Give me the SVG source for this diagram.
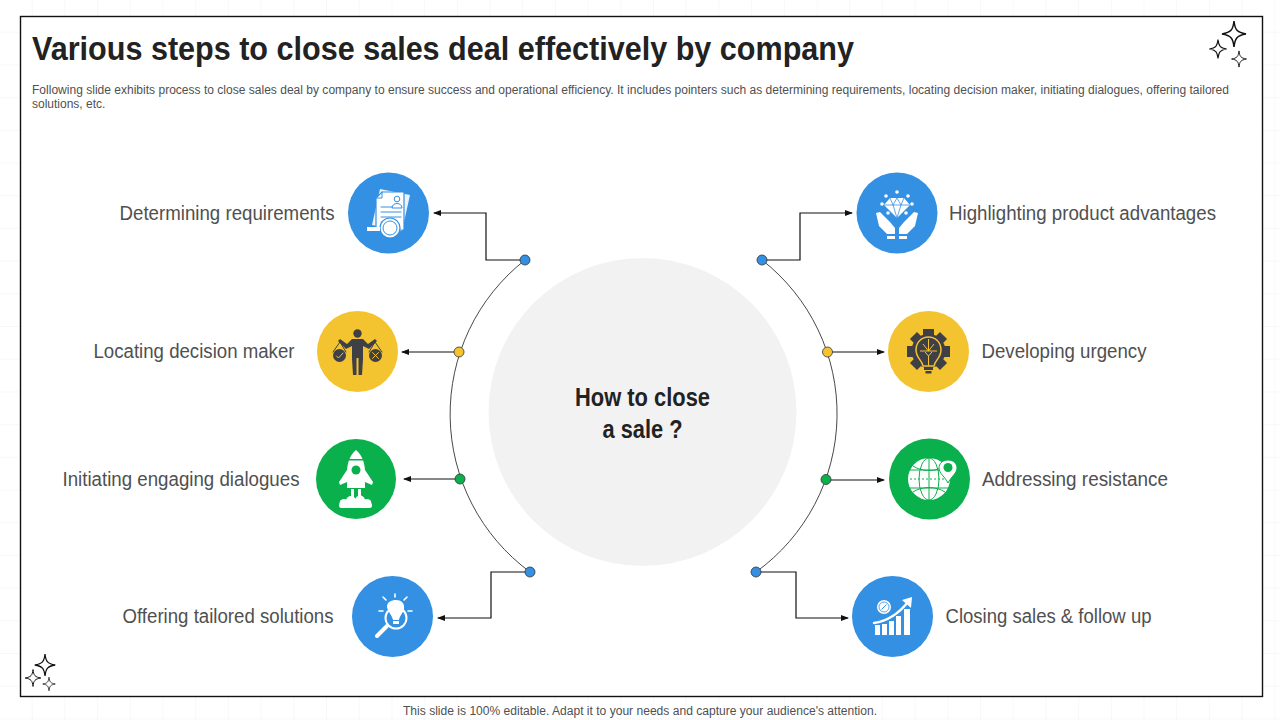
<svg xmlns="http://www.w3.org/2000/svg" width="1280" height="720" viewBox="0 0 1280 720">
<style>
.lbl{font-family:"Liberation Sans",Arial,sans-serif;font-size:19.5px;fill:#505050}
.small{font-family:"Liberation Sans",Arial,sans-serif;font-size:12px;fill:#505050}
.ctr{font-family:"Liberation Sans",Arial,sans-serif;font-size:25px;font-weight:700;fill:#222;text-anchor:middle}
.conn{fill:none;stroke:#111;stroke-width:1.2}
.arc{fill:none;stroke:#333;stroke-width:.9}
.blue{fill:#3390e3}.yellow{fill:#f4c430}.green{fill:#0ab04c}
.dot{stroke:#333;stroke-width:.8}
.w{fill:#fff}.wl{fill:none;stroke:#fff;stroke-width:1.6;stroke-linecap:round;stroke-linejoin:round}
.d{fill:#3f3f46}.dl{fill:none;stroke:#3f3f46;stroke-width:2;stroke-linecap:round;stroke-linejoin:round}
.star{fill:#fff;stroke:#111;stroke-width:1.500;stroke-linejoin:miter}
</style>
<defs>
<pattern id="grid" width="32.7" height="32.7" patternUnits="userSpaceOnUse"><path d="M32.7 0V32.7M0 32.7H32.7" fill="none" stroke="#f1f1f1" stroke-width="1"/></pattern>
<marker id="ah" markerWidth="8" markerHeight="6" refX="7" refY="3" orient="auto" markerUnits="userSpaceOnUse"><path d="M0 0L8 3L0 6z" fill="#111"/></marker>
<path id="s" d="M0-13C1-4 3-1.500 12 0C3 1.500 1 4 0 13C-1 4-3 1.500-12 0C-3-1.500-1-4 0-13Z"/>
</defs>
<rect width="1280" height="720" fill="#fff"/>
<rect width="1280" height="720" fill="url(#grid)"/>
<rect x="20.500" y="16.500" width="1242" height="680" fill="#fff" stroke="#111" stroke-width="1.400"/>
<text x="32" y="60" font-family="'Liberation Sans',Arial,sans-serif" font-size="34" font-weight="700" fill="#222" textLength="822" lengthAdjust="spacingAndGlyphs">Various steps to close sales deal effectively by company</text>
<text class="small" x="32" y="94" textLength="1197" lengthAdjust="spacingAndGlyphs">Following slide exhibits process to close sales deal by company to  ensure success and operational efficiency. It includes pointers such as determining requirements, locating decision maker, initiating dialogues, offering tailored</text>
<text class="small" x="32" y="108">solutions, etc.</text>
<text class="small" x="403" y="715" textLength="474" lengthAdjust="spacingAndGlyphs">This slide is 100% editable. Adapt it to your needs and capture your audience's attention.</text>
<g id="stars-top"><use href="#s" class="star" transform="translate(1234 34)"/><use href="#s" class="star" transform="translate(1218 49) scale(.72)"/><use href="#s" class="star" transform="translate(1239 59) scale(.62)"/></g>
<g id="stars-bottom"><use href="#s" class="star" transform="translate(45 665) scale(.85)"/><use href="#s" class="star" transform="translate(33 678) scale(.65)"/><use href="#s" class="star" transform="translate(49 684) scale(.52)"/></g>
<g id="hub"><circle cx="642.500" cy="412" r="154" fill="#f2f2f2"/><text class="ctr" x="642.500" y="406" textLength="135" lengthAdjust="spacingAndGlyphs">How to close</text><text class="ctr" x="642.500" y="438" textLength="80" lengthAdjust="spacingAndGlyphs">a sale ?</text></g>
<g id="connectors">
<path class="arc" d="M525 260A196 196 0 0 0 530 572"/>
<path class="arc" d="M762 260A195 195 0 0 1 756 572"/>
<path class="conn" marker-end="url(#ah)" d="M525 260H486V213H434"/>
<path class="conn" marker-end="url(#ah)" d="M459 352H402"/>
<path class="conn" marker-end="url(#ah)" d="M460 479H404"/>
<path class="conn" marker-end="url(#ah)" d="M530 572H491V618H438"/>
<path class="conn" marker-end="url(#ah)" d="M762 260H800V213H852"/>
<path class="conn" marker-end="url(#ah)" d="M827 352H884"/>
<path class="conn" marker-end="url(#ah)" d="M826 480H884"/>
<path class="conn" marker-end="url(#ah)" d="M756 572H796V618H848"/>
<circle class="dot blue" cx="525" cy="260" r="5"/><circle class="dot yellow" cx="459" cy="352" r="5"/><circle class="dot green" cx="460" cy="479" r="5"/><circle class="dot blue" cx="530" cy="572" r="5"/>
<circle class="dot blue" cx="762" cy="260" r="5"/><circle class="dot yellow" cx="827.500" cy="352" r="5"/><circle class="dot green" cx="826" cy="479.500" r="5"/><circle class="dot blue" cx="756" cy="572" r="5"/>
</g>
<g id="node-requirements"><circle class="blue" cx="388.500" cy="213" r="40.500"/>
<path class="w" d="M380 189L410 195L402 231L372 225Z" opacity=".9"/>
<path class="w" stroke="#3390e3" stroke-width="1.200" d="M382 192H404V230H376V198Z"/>
<path class="wl" style="stroke:#3390e3;stroke-width:1" d="M381 207H392M381 212H401M381 217H401M381 222H395M382 192V198H376"/>
<circle cx="397" cy="199" r="2.800" fill="none" stroke="#3390e3"/><path d="M392 208c0-6 10-6 10 0z" fill="none" stroke="#3390e3"/>
<circle cx="390" cy="228" r="10" class="w" stroke="#3390e3" stroke-width="1.200"/><circle cx="390" cy="228" r="7" fill="none" stroke="#3390e3"/>
<rect x="367" y="227" width="13" height="4" class="w"/>
<text class="lbl" x="119.500" y="220" textLength="215" lengthAdjust="spacingAndGlyphs">Determining requirements</text></g>
<g id="node-decision"><circle class="yellow" cx="357.500" cy="351.500" r="40.500"/>
<circle class="d" cx="357.500" cy="333.500" r="4.200"/>
<path class="d" d="M340 339L347 344L352 339H363L368 344L375 339L377 341L369 349L363 346V359L362 375H358.500V358H356.500V375H353L352 359V346L346 349L338 341Z"/>
<path class="dl" style="stroke-width:1" d="M340 342L333 352M340 342L346 352M375 342L369 352M375 342L382 352"/>
<circle class="d" cx="339.500" cy="355.500" r="6.500"/><circle class="d" cx="375.500" cy="355.500" r="6.500"/>
<path class="wl" style="stroke-width:1;stroke:#f4c430" d="M336.500 356L338.500 358L343 353M372.500 352.500L378.500 358.500M378.500 352.500L372.500 358.500"/>
<text class="lbl" x="93.500" y="358" textLength="201" lengthAdjust="spacingAndGlyphs">Locating decision maker</text></g>
<g id="node-dialogues"><circle class="green" cx="356" cy="479" r="40"/>
<path class="w" d="M356 450C362 455 365 463 365 472V488H347V472C347 463 350 455 356 450Z"/>
<path class="w" d="M347 470L339 482L340 485L347 482ZM365 470L373 482L372 485L365 482Z"/>
<circle class="green" cx="356" cy="470" r="4.500"/>
<path class="green" d="M347 459H365V460.500H347Z"/>
<path class="w" d="M351 489H354V499H351ZM358 489H361V499H358Z"/>
<g class="w"><circle cx="344" cy="503.500" r="4.500"/><circle cx="351" cy="501" r="5"/><circle cx="360" cy="500.500" r="5"/><circle cx="367" cy="503.500" r="4.500"/><rect x="339" y="503" width="33" height="5" rx="2.500"/></g>
<text class="lbl" x="62.500" y="486" textLength="237" lengthAdjust="spacingAndGlyphs">Initiating engaging dialogues</text></g>
<g id="node-solutions"><circle class="blue" cx="392.500" cy="616.500" r="40.500"/>
<circle cx="396" cy="618" r="10.500" fill="none" stroke="#fff" stroke-width="2"/>
<path class="w" d="M387 607C387 602 391 600 396 600C401 600 405 603 404 609C403 613 400 615 399 620H393C392 615 388 612 387 607Z"/>
<rect x="393" y="621" width="6" height="3" class="w"/>
<path class="wl" d="M387 626L377 636" style="stroke-width:4"/>
<path class="wl" d="M386 600L383 597M395 597V594M404 600L407 597M408 611H412M383 611H379"/>
<text class="lbl" x="122.500" y="623" textLength="211" lengthAdjust="spacingAndGlyphs">Offering tailored solutions</text></g>
<g id="node-advantages"><circle class="blue" cx="897" cy="213" r="40.500"/>
<path class="w" d="M890 198H904L910 205L897 218L884 205Z"/>
<path class="wl" style="stroke:#3390e3;stroke-width:.8" d="M884 205H910M893 205L897 218L901 205M890 198L893 205L897 198L901 205L904 198"/>
<circle class="w" cx="897" cy="192" r="1.800"/><circle class="w" cx="886" cy="196" r="1.800"/><circle class="w" cx="908" cy="196" r="1.800"/><circle class="w" cx="882" cy="204" r="1.800"/><circle class="w" cx="912" cy="204" r="1.800"/><circle class="w" cx="888" cy="213" r="1.800"/><circle class="w" cx="906" cy="213" r="1.800"/>
<path class="w" d="M876 213L880 212L890 222L895 228V234H887L879 226ZM918 213L914 212L904 222L899 228V234H907L915 226Z"/>
<rect x="887" y="236" width="8" height="3" class="w"/><rect x="899" y="236" width="8" height="3" class="w"/>
<text class="lbl" x="949" y="220" textLength="267" lengthAdjust="spacingAndGlyphs">Highlighting product advantages</text></g>
<g id="node-urgency"><circle class="yellow" cx="928.500" cy="351.500" r="40.500"/>
<circle class="d" cx="928.500" cy="351" r="17"/>
<g class="d"><rect x="923" y="329" width="11" height="9"/><rect x="907" y="346" width="9" height="11"/><rect x="941" y="346" width="9" height="11"/><rect x="912" y="334" width="10" height="10" transform="rotate(45 917 339)"/><rect x="935" y="334" width="10" height="10" transform="rotate(45 940 339)"/><rect x="912" y="358" width="10" height="10" transform="rotate(45 917 363)"/><rect x="935" y="358" width="10" height="10" transform="rotate(45 940 363)"/></g>
<path class="d" stroke="#f4c430" stroke-width="1.500" d="M916 350C916 342 922 337 928.500 337C935 337 941 342 941 350C941 358 935 360 934 366H923C922 360 916 358 916 350Z"/>
<path d="M920 351H937M928.500 339V351M928.500 351L923 344M928.500 351L934 344M928.500 356L925 352M928.500 356L932 352M928.500 356V366" fill="none" stroke="#f4c430" stroke-width="1"/>
<rect x="924" y="367" width="9" height="3" class="d"/><rect x="925.500" y="371" width="6" height="2.500" class="d"/>
<text class="lbl" x="981.500" y="358" textLength="165" lengthAdjust="spacingAndGlyphs">Developing urgency</text></g>
<g id="node-resistance"><circle class="green" cx="929.500" cy="479" r="40.500"/>
<circle class="w" cx="929" cy="479" r="21"/>
<g fill="none" stroke="#0ab04c" stroke-width="1"><ellipse cx="929" cy="479" rx="10" ry="21"/><path d="M929 458V500M909 470H949M909 488H949"/><path d="M913 466C922 472 936 472 945 466M913 492C922 486 936 486 945 492"/><path d="M910 479H948" stroke-dasharray="2 2"/></g>
<path d="M948 460C942 460 939 464 939 468C939 473 945 477 948 483C951 477 957 473 957 468C957 464 954 460 948 460Z" fill="#fff" stroke="#0ab04c"/><circle class="green" cx="948" cy="467.500" r="4.500"/>
<text class="lbl" x="982" y="486" textLength="186" lengthAdjust="spacingAndGlyphs">Addressing resistance</text></g>
<g id="node-closing"><circle class="blue" cx="892.500" cy="616.500" r="40.500"/>
<circle class="w" cx="884" cy="607" r="7"/><circle cx="884" cy="607" r="5" fill="none" stroke="#3390e3" stroke-width=".8"/>
<path d="M881.500 609.500L886.500 604.500" stroke="#3390e3" stroke-width="1"/>
<path class="wl" d="M874 623C888 621 900 612 908 602" style="stroke-width:2.400"/>
<path class="w" d="M902 600L912 597L911 608Z"/>
<path class="w" d="M875 625H880V635H875ZM882 624H887V635H882ZM889 621H894V635H889ZM896 616H901V635H896ZM904 609H910V635H904Z"/>
<text class="lbl" x="945.500" y="623" textLength="206" lengthAdjust="spacingAndGlyphs">Closing sales &amp; follow up</text></g>
</svg>
